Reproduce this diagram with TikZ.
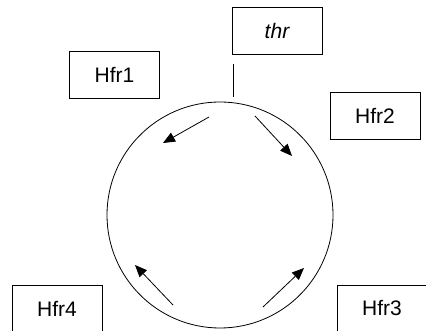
\documentclass[tikz,border=0pt]{standalone}
\usepackage{fontspec}
\setmainfont{Liberation Sans}
\usetikzlibrary{arrows.meta}
\begin{document}
\begin{tikzpicture}[x=1pt,y=-1pt,
  labelbox/.style={draw,line width=0.8pt,minimum width=90pt,minimum height=47pt,inner sep=0pt,font=\fontsize{21}{24}\selectfont},
  flow/.style={line width=0.8pt,-{Triangle[length=12pt,width=10pt]}},
  plain/.style={line width=0.8pt}]
\clip (0,0) rectangle (426,331);
\node[labelbox] (thr) at (277,30.5) {\itshape thr};
\node[labelbox] (hfr1) at (114.5,75) {Hfr1};
\node[labelbox] (hfr2) at (375,115.5) {Hfr2};
\node[labelbox] (hfr3) at (382,308.5) {Hfr3};
\node[labelbox] (hfr4) at (57,308.5) {Hfr4};
\node[circle,draw,line width=0.8pt,minimum size=226pt,inner sep=0pt] (ring) at (220,215) {};
\coordinate (t1) at (233,64);
\coordinate (t2) at (233,97);
\draw[plain] (t1) -- (t2);
\coordinate (a1s) at (209,117); \coordinate (a1e) at (163,143);
\coordinate (a2s) at (255,116); \coordinate (a2e) at (292,156);
\coordinate (a3s) at (173,305); \coordinate (a3e) at (135,265);
\coordinate (a4s) at (263,307); \coordinate (a4e) at (304,268);
\draw[flow] (a1s) -- (a1e);
\draw[flow] (a2s) -- (a2e);
\draw[flow] (a3s) -- (a3e);
\draw[flow] (a4s) -- (a4e);
\end{tikzpicture}
\end{document}
